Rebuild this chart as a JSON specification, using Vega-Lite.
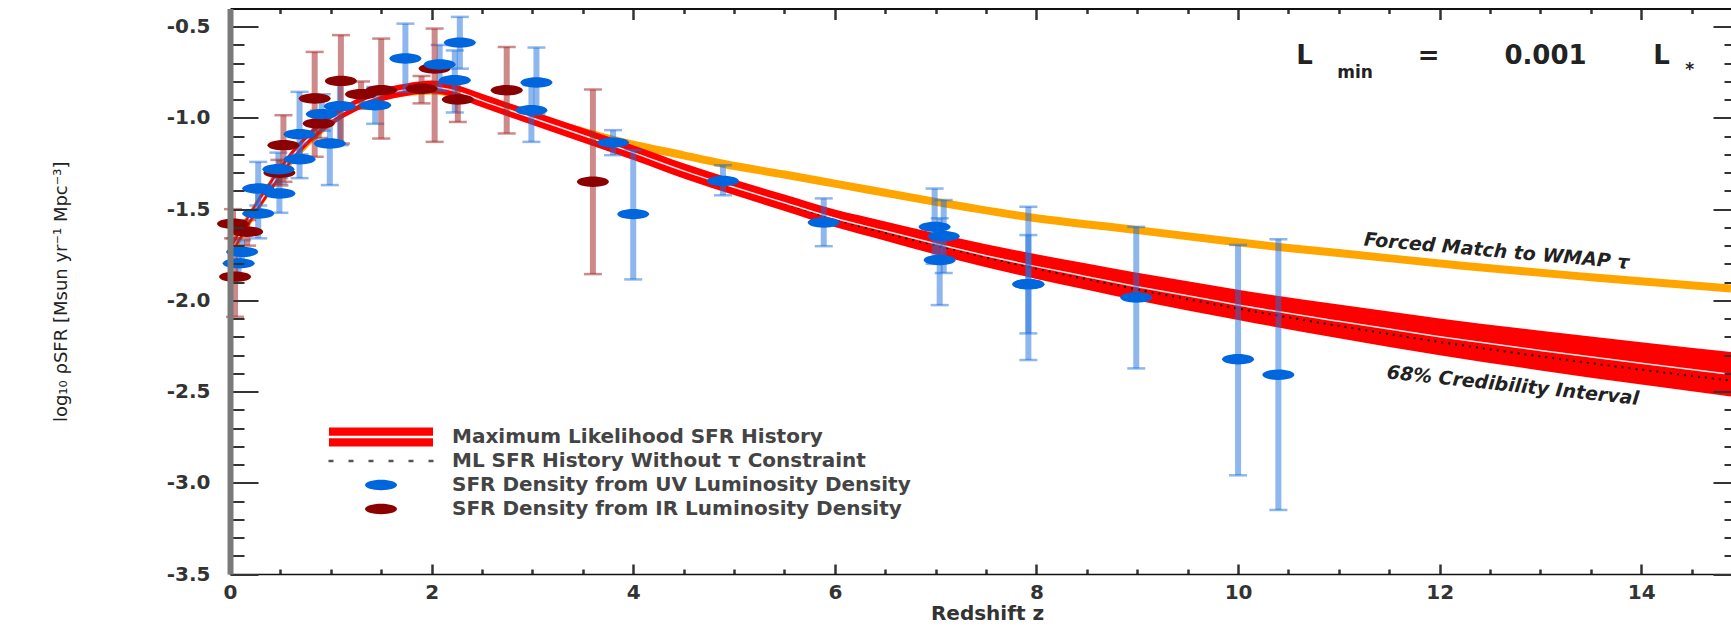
{
  "$schema": "https://vega.github.io/schema/vega-lite/v6.json",
  "width": 1501,
  "height": 565.5,
  "autosize": {"type": "none"},
  "padding": {"left": 230, "top": 8.5, "right": 0, "bottom": 52},
  "background": "#ffffff",
  "config": {"view": {"stroke": null}, "axis": {"grid": false}, "font": "DejaVu Sans"},
  "datasets": {
    "wmap": [
      {"z": 0, "v": -1.74}, {"z": 0.25, "v": -1.5}, {"z": 0.5, "v": -1.3}, {"z": 1.0, "v": -1.02},
      {"z": 1.5, "v": -0.885}, {"z": 2.0, "v": -0.85}, {"z": 2.3, "v": -0.875}, {"z": 2.7, "v": -0.945},
      {"z": 3.0, "v": -1.0}, {"z": 3.5, "v": -1.075}, {"z": 3.8, "v": -1.12}, {"z": 4.5, "v": -1.205},
      {"z": 4.89, "v": -1.251}, {"z": 5.5, "v": -1.31}, {"z": 6.0, "v": -1.36}, {"z": 7.0, "v": -1.46},
      {"z": 7.9, "v": -1.542}, {"z": 9.0, "v": -1.615}, {"z": 9.81, "v": -1.669}, {"z": 10.4, "v": -1.707},
      {"z": 11.0, "v": -1.74}, {"z": 12.25, "v": -1.812}, {"z": 13.5, "v": -1.873}, {"z": 14.89, "v": -1.935}
    ],
    "ml": [
      {"z": 0.0, "c": -1.74, "lo": -1.773, "hi": -1.707},
      {"z": 0.1, "c": -1.64, "lo": -1.673, "hi": -1.607},
      {"z": 0.25, "c": -1.5, "lo": -1.533, "hi": -1.467},
      {"z": 0.42, "c": -1.36, "lo": -1.393, "hi": -1.327},
      {"z": 0.6, "c": -1.22, "lo": -1.253, "hi": -1.187},
      {"z": 0.8, "c": -1.1, "lo": -1.133, "hi": -1.067},
      {"z": 1.0, "c": -1.01, "lo": -1.043, "hi": -0.977},
      {"z": 1.25, "c": -0.93, "lo": -0.963, "hi": -0.897},
      {"z": 1.5, "c": -0.875, "lo": -0.909, "hi": -0.841},
      {"z": 1.75, "c": -0.845, "lo": -0.879, "hi": -0.811},
      {"z": 2.0, "c": -0.83, "lo": -0.865, "hi": -0.795},
      {"z": 2.25, "c": -0.855, "lo": -0.891, "hi": -0.819},
      {"z": 2.5, "c": -0.905, "lo": -0.942, "hi": -0.868},
      {"z": 3.0, "c": -1.0, "lo": -1.038, "hi": -0.962},
      {"z": 3.5, "c": -1.095, "lo": -1.135, "hi": -1.055},
      {"z": 4.0, "c": -1.19, "lo": -1.231, "hi": -1.149},
      {"z": 4.5, "c": -1.29, "lo": -1.332, "hi": -1.248},
      {"z": 5.0, "c": -1.38, "lo": -1.423, "hi": -1.337},
      {"z": 5.5, "c": -1.465, "lo": -1.51, "hi": -1.42},
      {"z": 6.0, "c": -1.55, "lo": -1.598, "hi": -1.502},
      {"z": 6.5, "c": -1.62, "lo": -1.673, "hi": -1.567},
      {"z": 7.0, "c": -1.69, "lo": -1.748, "hi": -1.632},
      {"z": 7.5, "c": -1.755, "lo": -1.818, "hi": -1.692},
      {"z": 8.0, "c": -1.815, "lo": -1.883, "hi": -1.747},
      {"z": 8.5, "c": -1.87, "lo": -1.942, "hi": -1.798},
      {"z": 9.0, "c": -1.925, "lo": -2.001, "hi": -1.849},
      {"z": 9.5, "c": -1.975, "lo": -2.055, "hi": -1.895},
      {"z": 10.0, "c": -2.025, "lo": -2.108, "hi": -1.942},
      {"z": 11.0, "c": -2.115, "lo": -2.207, "hi": -2.023},
      {"z": 12.0, "c": -2.2, "lo": -2.301, "hi": -2.099},
      {"z": 13.0, "c": -2.275, "lo": -2.384, "hi": -2.166},
      {"z": 14.0, "c": -2.345, "lo": -2.461, "hi": -2.229},
      {"z": 14.89, "c": -2.405, "lo": -2.527, "hi": -2.283}
    ],
    "notau": [
      {"z": 5.5, "v": -1.467}, {"z": 6.0, "v": -1.555}, {"z": 7.0, "v": -1.698}, {"z": 8.0, "v": -1.826},
      {"z": 9.0, "v": -1.94}, {"z": 10.0, "v": -2.045}, {"z": 11.0, "v": -2.14}, {"z": 12.0, "v": -2.228},
      {"z": 13.0, "v": -2.307}, {"z": 14.0, "v": -2.38}, {"z": 14.89, "v": -2.44}
    ],
    "obs": [
      {"series": "SFR Density from IR Luminosity Density", "z": 0.03, "v": -1.58, "lo": -1.66, "hi": -1.5},
      {"series": "SFR Density from IR Luminosity Density", "z": 0.05, "v": -1.87, "lo": -2.09, "hi": -1.66},
      {"series": "SFR Density from IR Luminosity Density", "z": 0.17, "v": -1.624, "lo": -1.7, "hi": -1.56},
      {"series": "SFR Density from IR Luminosity Density", "z": 0.49, "v": -1.3, "lo": -1.37, "hi": -1.23},
      {"series": "SFR Density from IR Luminosity Density", "z": 0.53, "v": -1.149, "lo": -1.35, "hi": -0.985},
      {"series": "SFR Density from IR Luminosity Density", "z": 0.84, "v": -0.893, "lo": -1.213, "hi": -0.638},
      {"series": "SFR Density from IR Luminosity Density", "z": 0.88, "v": -1.03, "lo": -1.11, "hi": -0.96},
      {"series": "SFR Density from IR Luminosity Density", "z": 1.1, "v": -0.797, "lo": -1.14, "hi": -0.546},
      {"series": "SFR Density from IR Luminosity Density", "z": 1.3, "v": -0.87, "lo": -0.95, "hi": -0.8},
      {"series": "SFR Density from IR Luminosity Density", "z": 1.5, "v": -0.848, "lo": -1.113, "hi": -0.565},
      {"series": "SFR Density from IR Luminosity Density", "z": 1.9, "v": -0.84, "lo": -0.92, "hi": -0.77},
      {"series": "SFR Density from IR Luminosity Density", "z": 2.03, "v": -0.729, "lo": -1.131, "hi": -0.51},
      {"series": "SFR Density from IR Luminosity Density", "z": 2.26, "v": -0.899, "lo": -1.022, "hi": -0.793},
      {"series": "SFR Density from IR Luminosity Density", "z": 2.745, "v": -0.848, "lo": -1.085, "hi": -0.611},
      {"series": "SFR Density from IR Luminosity Density", "z": 3.6, "v": -1.35, "lo": -1.856, "hi": -0.844},
      {"series": "SFR Density from UV Luminosity Density", "z": 0.086, "v": -1.797, "lo": -1.86, "hi": -1.74},
      {"series": "SFR Density from UV Luminosity Density", "z": 0.12, "v": -1.734, "lo": -1.8, "hi": -1.67},
      {"series": "SFR Density from UV Luminosity Density", "z": 0.28, "v": -1.524, "lo": -1.66, "hi": -1.4},
      {"series": "SFR Density from UV Luminosity Density", "z": 0.28, "v": -1.387, "lo": -1.48, "hi": -1.241},
      {"series": "SFR Density from UV Luminosity Density", "z": 0.49, "v": -1.414, "lo": -1.52, "hi": -1.33},
      {"series": "SFR Density from UV Luminosity Density", "z": 0.48, "v": -1.281, "lo": -1.36, "hi": -1.19},
      {"series": "SFR Density from UV Luminosity Density", "z": 0.69, "v": -1.226, "lo": -1.33, "hi": -1.14},
      {"series": "SFR Density from UV Luminosity Density", "z": 0.69, "v": -1.089, "lo": -1.2, "hi": -0.857},
      {"series": "SFR Density from UV Luminosity Density", "z": 0.91, "v": -0.979, "lo": -1.07, "hi": -0.87},
      {"series": "SFR Density from UV Luminosity Density", "z": 0.99, "v": -1.14, "lo": -1.368, "hi": -1.012},
      {"series": "SFR Density from UV Luminosity Density", "z": 1.09, "v": -0.936, "lo": -1.149, "hi": -0.793},
      {"series": "SFR Density from UV Luminosity Density", "z": 1.44, "v": -0.93, "lo": -1.032, "hi": -0.83},
      {"series": "SFR Density from UV Luminosity Density", "z": 1.74, "v": -0.674, "lo": -0.857, "hi": -0.483},
      {"series": "SFR Density from UV Luminosity Density", "z": 2.08, "v": -0.707, "lo": -0.85, "hi": -0.6},
      {"series": "SFR Density from UV Luminosity Density", "z": 2.23, "v": -0.793, "lo": -0.97, "hi": -0.63},
      {"series": "SFR Density from UV Luminosity Density", "z": 2.28, "v": -0.587, "lo": -0.73, "hi": -0.446},
      {"series": "SFR Density from UV Luminosity Density", "z": 2.99, "v": -0.958, "lo": -1.131, "hi": -0.82},
      {"series": "SFR Density from UV Luminosity Density", "z": 3.04, "v": -0.806, "lo": -0.98, "hi": -0.614},
      {"series": "SFR Density from UV Luminosity Density", "z": 3.8, "v": -1.135, "lo": -1.204, "hi": -1.067},
      {"series": "SFR Density from UV Luminosity Density", "z": 4.0, "v": -1.527, "lo": -1.885, "hi": -1.177},
      {"series": "SFR Density from UV Luminosity Density", "z": 4.89, "v": -1.345, "lo": -1.424, "hi": -1.259},
      {"series": "SFR Density from UV Luminosity Density", "z": 5.89, "v": -1.573, "lo": -1.703, "hi": -1.441},
      {"series": "SFR Density from UV Luminosity Density", "z": 6.99, "v": -1.597, "lo": -1.8, "hi": -1.387},
      {"series": "SFR Density from UV Luminosity Density", "z": 7.08, "v": -1.648, "lo": -1.85, "hi": -1.45},
      {"series": "SFR Density from UV Luminosity Density", "z": 7.04, "v": -1.779, "lo": -2.026, "hi": -1.55},
      {"series": "SFR Density from UV Luminosity Density", "z": 7.92, "v": -1.911, "lo": -2.327, "hi": -1.487},
      {"series": "SFR Density from UV Luminosity Density", "z": 7.92, "v": -1.911, "lo": -2.181, "hi": -1.642},
      {"series": "SFR Density from UV Luminosity Density", "z": 8.99, "v": -1.984, "lo": -2.373, "hi": -1.597},
      {"series": "SFR Density from UV Luminosity Density", "z": 10.0, "v": -2.323, "lo": -2.959, "hi": -1.696},
      {"series": "SFR Density from UV Luminosity Density", "z": 10.4, "v": -2.408, "lo": -3.149, "hi": -1.665}
    ]
  },
  "layer": [
    {
      "data": {"name": "wmap"},
      "mark": {"type": "line", "color": "#FFA500", "strokeWidth": 8, "interpolate": "monotone", "clip": true},
      "encoding": {
        "x": {"field": "z", "type": "quantitative", "scale": {"domain": [0, 14.89], "nice": false, "zero": false},
          "axis": {"orient": "bottom", "zindex": 1,
            "values": [0,0.5,1,1.5,2,2.5,3,3.5,4,4.5,5,5.5,6,6.5,7,7.5,8,8.5,9,9.5,10,10.5,11,11.5,12,12.5,13,13.5,14,14.5],
            "tickSize": {"condition": {"test": "round(datum.value*2)%4===0", "value": -10}, "value": -5},
            "tickColor": "#333", "tickWidth": 2.5, "domainColor": "#111", "domainWidth": 1.5,
            "labelExpr": "round(datum.value*2)%4===0 ? format(datum.value,'d') : ''",
            "labelFont": "DejaVu Sans", "labelFontSize": 20, "labelFontWeight": "bold", "labelColor": "#333",
            "labelPadding": 18, "labelOverlap": false, "labelFlush": false,
            "title": "Redshift z", "titleFont": "DejaVu Sans", "titleFontSize": 20, "titleFontWeight": "bold", "titleColor": "#333",
            "titleX": 757, "titleY": 45, "titleAlign": "center", "titleBaseline": "alphabetic", "grid": false}},
        "y": {"field": "v", "type": "quantitative", "scale": {"domain": [-3.5, -0.4], "nice": false, "zero": false},
          "axis": {"orient": "left", "zindex": 1,
            "values": [-3.5,-3.4,-3.3,-3.2,-3.1,-3.0,-2.9,-2.8,-2.7,-2.6,-2.5,-2.4,-2.3,-2.2,-2.1,-2.0,-1.9,-1.8,-1.7,-1.6,-1.5,-1.4,-1.3,-1.2,-1.1,-1.0,-0.9,-0.8,-0.7,-0.6,-0.5],
            "tickSize": {"condition": {"test": "abs(round(datum.value*10))%5===0", "value": -28}, "value": -14},
            "tickColor": "#333", "tickWidth": 2, "domainColor": "#7a7a7a", "domainWidth": 6,
            "labelExpr": "abs(round(datum.value*10))%5===0 ? ((datum.value<0 ? '-' : '') + format(abs(datum.value),'.1f')) : ''",
            "labelFont": "DejaVu Sans", "labelFontSize": 20, "labelFontWeight": "bold", "labelColor": "#333",
            "labelPadding": 48, "labelOverlap": false, "labelFlush": false,
            "title": "log₁₀ ρSFR [Msun yr⁻¹ Mpc⁻³]", "titleFont": "DejaVu Sans", "titleFontSize": 18, "titleFontWeight": "normal", "titleColor": "#222",
            "titleX": -164, "titleY": 282.8, "titleAngle": -90, "titleAlign": "center", "titleBaseline": "alphabetic", "grid": false}}
      }
    },
    {
      "data": {"name": "ml"},
      "mark": {"type": "area", "color": "#FF0000", "interpolate": "monotone", "clip": true},
      "encoding": {
        "x": {"field": "z", "type": "quantitative", "scale": {"domain": [0, 14.89], "nice": false, "zero": false}, "axis": null},
        "y": {"field": "lo", "type": "quantitative", "scale": {"domain": [-3.5, -0.4], "nice": false, "zero": false}, "axis": null},
        "y2": {"field": "hi"}
      }
    },
    {
      "data": {"name": "notau"},
      "mark": {"type": "line", "color": "#111111", "strokeWidth": 2, "strokeDash": [2, 5], "interpolate": "monotone", "clip": true},
      "encoding": {
        "x": {"field": "z", "type": "quantitative", "scale": {"domain": [0, 14.89], "nice": false, "zero": false}, "axis": null},
        "y": {"field": "v", "type": "quantitative", "scale": {"domain": [-3.5, -0.4], "nice": false, "zero": false}, "axis": null}
      }
    },
    {
      "data": {"name": "ml"},
      "mark": {"type": "line", "color": "#ffffff", "strokeWidth": 1.5, "opacity": 0.9, "interpolate": "monotone", "clip": true},
      "encoding": {
        "x": {"field": "z", "type": "quantitative", "scale": {"domain": [0, 14.89], "nice": false, "zero": false},
          "axis": {"orient": "top", "zindex": 1,
            "values": [0,0.5,1,1.5,2,2.5,3,3.5,4,4.5,5,5.5,6,6.5,7,7.5,8,8.5,9,9.5,10,10.5,11,11.5,12,12.5,13,13.5,14,14.5],
            "tickSize": {"condition": {"test": "round(datum.value*2)%4===0", "value": -11}, "value": -5},
            "tickColor": "#333", "tickWidth": 2.5, "domainColor": "#111", "domainWidth": 2,
            "labels": false, "title": null, "grid": false}},
        "y": {"field": "c", "type": "quantitative", "scale": {"domain": [-3.5, -0.4], "nice": false, "zero": false},
          "axis": {"orient": "right", "zindex": 1,
            "values": [-3.5,-3.4,-3.3,-3.2,-3.1,-3.0,-2.9,-2.8,-2.7,-2.6,-2.5,-2.4,-2.3,-2.2,-2.1,-2.0,-1.9,-1.8,-1.7,-1.6,-1.5,-1.4,-1.3,-1.2,-1.1,-1.0,-0.9,-0.8,-0.7,-0.6,-0.5],
            "tickSize": {"condition": {"test": "abs(round(datum.value*10))%5===0", "value": -18}, "value": -7},
            "tickColor": "#333", "tickWidth": 2, "domain": false,
            "labels": false, "title": null, "grid": false}}
      }
    },
    {
      "data": {"name": "obs"},
      "transform": [{"filter": "datum.series === 'SFR Density from UV Luminosity Density'"}],
      "mark": {"type": "rule", "color": "#1e6fdd", "opacity": 0.5, "strokeWidth": 6},
      "encoding": {
        "x": {"field": "z", "type": "quantitative", "scale": {"domain": [0, 14.89], "nice": false, "zero": false}, "axis": null},
        "y": {"field": "lo", "type": "quantitative", "scale": {"domain": [-3.5, -0.4], "nice": false, "zero": false}, "axis": null},
        "y2": {"field": "hi"}
      }
    },
    {
      "data": {"name": "obs"},
      "transform": [{"filter": "datum.series === 'SFR Density from UV Luminosity Density'"}, {"fold": ["lo", "hi"], "as": ["end", "yv"]}],
      "mark": {"type": "tick", "orient": "horizontal", "color": "#1e6fdd", "opacity": 0.5, "size": 18, "thickness": 2.5},
      "encoding": {
        "x": {"field": "z", "type": "quantitative", "scale": {"domain": [0, 14.89], "nice": false, "zero": false}, "axis": null},
        "y": {"field": "yv", "type": "quantitative", "scale": {"domain": [-3.5, -0.4], "nice": false, "zero": false}, "axis": null}
      }
    },
    {
      "data": {"name": "obs"},
      "transform": [{"filter": "datum.series === 'SFR Density from IR Luminosity Density'"}],
      "mark": {"type": "rule", "color": "#a52a2a", "opacity": 0.55, "strokeWidth": 6},
      "encoding": {
        "x": {"field": "z", "type": "quantitative", "scale": {"domain": [0, 14.89], "nice": false, "zero": false}, "axis": null},
        "y": {"field": "lo", "type": "quantitative", "scale": {"domain": [-3.5, -0.4], "nice": false, "zero": false}, "axis": null},
        "y2": {"field": "hi"}
      }
    },
    {
      "data": {"name": "obs"},
      "transform": [{"filter": "datum.series === 'SFR Density from IR Luminosity Density'"}, {"fold": ["lo", "hi"], "as": ["end", "yv"]}],
      "mark": {"type": "tick", "orient": "horizontal", "color": "#a52a2a", "opacity": 0.55, "size": 18, "thickness": 2.5},
      "encoding": {
        "x": {"field": "z", "type": "quantitative", "scale": {"domain": [0, 14.89], "nice": false, "zero": false}, "axis": null},
        "y": {"field": "yv", "type": "quantitative", "scale": {"domain": [-3.5, -0.4], "nice": false, "zero": false}, "axis": null}
      }
    },
    {
      "data": {"name": "obs"},
      "mark": {"type": "point", "filled": true, "size": 400, "opacity": 1, "strokeWidth": 0},
      "encoding": {
        "x": {"field": "z", "type": "quantitative", "scale": {"domain": [0, 14.89], "nice": false, "zero": false}, "axis": null},
        "y": {"field": "v", "type": "quantitative", "scale": {"domain": [-3.5, -0.4], "nice": false, "zero": false}, "axis": null},
        "color": {"field": "series", "type": "nominal",
          "scale": {"domain": ["Maximum Likelihood SFR History", "ML SFR History Without τ Constraint", "SFR Density from UV Luminosity Density", "SFR Density from IR Luminosity Density"],
                    "range": ["#ff0000", "#555555", "#0066dd", "#8b0000"]},
          "legend": {"orient": "none", "legendX": 141, "legendY": 418.5, "title": null, "padding": 0, "symbolSize": 400, "symbolStrokeWidth": 0,
                     "labelOffset": 61, "rowPadding": 4, "labelFont": "DejaVu Sans", "labelFontSize": 20, "labelFontWeight": "bold",
                     "labelColor": "#444", "labelLimit": 1000, "symbolOpacity": 1}},
        "shape": {"field": "series", "type": "nominal",
          "scale": {"domain": ["Maximum Likelihood SFR History", "ML SFR History Without τ Constraint", "SFR Density from UV Luminosity Density", "SFR Density from IR Luminosity Density"],
                    "range": [
                      "M-5.2,-0.95H5.2V-0.12H-5.2Z M-5.2,0.12H5.2V0.95H-5.2Z",
                      "M-5.25,-0.13h0.5v0.26h-0.5Z M-3.25,-0.13h0.5v0.26h-0.5Z M-1.25,-0.13h0.5v0.26h-0.5Z M0.75,-0.13h0.5v0.26h-0.5Z M2.75,-0.13h0.5v0.26h-0.5Z M4.75,-0.13h0.5v0.26h-0.5Z",
                      "M-1.6,0C-1.6,-0.287,-0.884,-0.52,0,-0.52C0.884,-0.52,1.6,-0.287,1.6,0C1.6,0.287,0.884,0.52,0,0.52C-0.884,0.52,-1.6,0.287,-1.6,0Z",
                      "M-1.6,0C-1.6,-0.287,-0.884,-0.52,0,-0.52C0.884,-0.52,1.6,-0.287,1.6,0C1.6,0.287,0.884,0.52,0,0.52C-0.884,0.52,-1.6,0.287,-1.6,0Z"
                    ]},
          "legend": {"orient": "none", "legendX": 141, "legendY": 418.5, "title": null, "padding": 0, "symbolSize": 400, "symbolStrokeWidth": 0,
                     "labelOffset": 61, "rowPadding": 4, "labelFont": "DejaVu Sans", "labelFontSize": 20, "labelFontWeight": "bold",
                     "labelColor": "#444", "labelLimit": 1000, "symbolOpacity": 1}}
      }
    },
    {
      "data": {"values": [
        {"z": 10.66, "v": -0.705, "t": "L"}, {"z": 11.89, "v": -0.705, "t": "="},
        {"z": 13.05, "v": -0.705, "t": "0.001"}, {"z": 14.2, "v": -0.705, "t": "L"}
      ]},
      "mark": {"type": "text", "font": "DejaVu Sans", "fontSize": 26, "fontWeight": "bold", "color": "#222", "align": "center", "baseline": "alphabetic"},
      "encoding": {
        "x": {"field": "z", "type": "quantitative", "scale": {"domain": [0, 14.89], "nice": false, "zero": false}, "axis": null},
        "y": {"field": "v", "type": "quantitative", "scale": {"domain": [-3.5, -0.4], "nice": false, "zero": false}, "axis": null},
        "text": {"field": "t"}
      }
    },
    {
      "data": {"values": [
        {"z": 11.16, "v": -0.782, "t": "min"}, {"z": 14.48, "v": -0.766, "t": "*"}
      ]},
      "mark": {"type": "text", "font": "DejaVu Sans", "fontSize": 17, "fontWeight": "bold", "color": "#222", "align": "center", "baseline": "alphabetic"},
      "encoding": {
        "x": {"field": "z", "type": "quantitative", "scale": {"domain": [0, 14.89], "nice": false, "zero": false}, "axis": null},
        "y": {"field": "v", "type": "quantitative", "scale": {"domain": [-3.5, -0.4], "nice": false, "zero": false}, "axis": null},
        "text": {"field": "t"}
      }
    },
    {
      "data": {"values": [{"z": 12.56, "v": -1.763, "t": "Forced Match to WMAP τ"}]},
      "mark": {"type": "text", "font": "DejaVu Sans", "fontSize": 19, "fontWeight": "bold", "fontStyle": "italic", "color": "#222", "align": "center", "baseline": "alphabetic", "angle": 5},
      "encoding": {
        "x": {"field": "z", "type": "quantitative", "scale": {"domain": [0, 14.89], "nice": false, "zero": false}, "axis": null},
        "y": {"field": "v", "type": "quantitative", "scale": {"domain": [-3.5, -0.4], "nice": false, "zero": false}, "axis": null},
        "text": {"field": "t"}
      }
    },
    {
      "data": {"values": [{"z": 12.72, "v": -2.5, "t": "68% Credibility Interval"}]},
      "mark": {"type": "text", "font": "DejaVu Sans", "fontSize": 19, "fontWeight": "bold", "fontStyle": "italic", "color": "#222", "align": "center", "baseline": "alphabetic", "angle": 6},
      "encoding": {
        "x": {"field": "z", "type": "quantitative", "scale": {"domain": [0, 14.89], "nice": false, "zero": false}, "axis": null},
        "y": {"field": "v", "type": "quantitative", "scale": {"domain": [-3.5, -0.4], "nice": false, "zero": false}, "axis": null},
        "text": {"field": "t"}
      }
    }
  ],
  "resolve": {"axis": {"x": "independent", "y": "independent"}}
}
